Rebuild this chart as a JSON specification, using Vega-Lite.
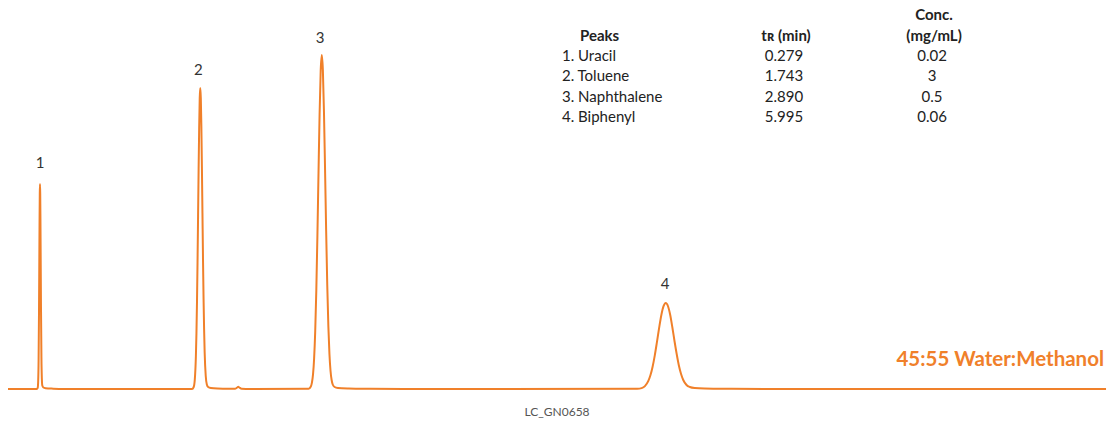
{
  "$schema": "https://vega.github.io/schema/vega-lite/v6.json",
  "width": 1108,
  "height": 424,
  "padding": 0,
  "autosize": "none",
  "background": "white",
  "config": {"view": {"stroke": null}},
  "datasets": {
    "trace": [
      {"t": -0.013, "v": 0}, {"t": 0.25, "v": 0}, {"t": 0.258, "v": 1.1}, {"t": 0.262, "v": 6.7}, {"t": 0.266, "v": 27.7}, {"t": 0.270, "v": 78.6}, {"t": 0.273, "v": 133.9}, {"t": 0.275, "v": 169.5}, {"t": 0.277, "v": 195.6}, {"t": 0.279, "v": 205}, {"t": 0.281, "v": 195.6}, {"t": 0.283, "v": 170}, {"t": 0.285, "v": 136}, {"t": 0.288, "v": 82}, {"t": 0.292, "v": 32}, {"t": 0.296, "v": 10}, {"t": 0.300, "v": 3.5}, {"t": 0.31, "v": 1.5}, {"t": 0.33, "v": 0.8}, {"t": 0.4, "v": 0.3}, {"t": 0.5, "v": 0},
      {"t": 1.668, "v": 0.1}, {"t": 1.683, "v": 2.0}, {"t": 1.693, "v": 9.4}, {"t": 1.703, "v": 32.8}, {"t": 1.708, "v": 55.2}, {"t": 1.713, "v": 86.5}, {"t": 1.718, "v": 126.6}, {"t": 1.723, "v": 173}, {"t": 1.728, "v": 220.3}, {"t": 1.733, "v": 262.1}, {"t": 1.738, "v": 290.8}, {"t": 1.743, "v": 301}, {"t": 1.748, "v": 291}, {"t": 1.753, "v": 263}, {"t": 1.758, "v": 222}, {"t": 1.763, "v": 176}, {"t": 1.768, "v": 130}, {"t": 1.773, "v": 91}, {"t": 1.778, "v": 60}, {"t": 1.783, "v": 37}, {"t": 1.793, "v": 13}, {"t": 1.803, "v": 4.5}, {"t": 1.815, "v": 2}, {"t": 1.84, "v": 1}, {"t": 1.9, "v": 0.5}, {"t": 2.0, "v": 0.3},
      {"t": 2.06, "v": 0.3}, {"t": 2.08, "v": 1.5}, {"t": 2.09, "v": 2.2}, {"t": 2.10, "v": 1.5}, {"t": 2.12, "v": 0.3}, {"t": 2.2, "v": 0},
      {"t": 2.733, "v": 0.3}, {"t": 2.753, "v": 2.5}, {"t": 2.763, "v": 6.4}, {"t": 2.773, "v": 14.6}, {"t": 2.783, "v": 30.5}, {"t": 2.793, "v": 57.6}, {"t": 2.803, "v": 98.5}, {"t": 2.813, "v": 153}, {"t": 2.823, "v": 215.2}, {"t": 2.833, "v": 274.8}, {"t": 2.843, "v": 318}, {"t": 2.853, "v": 334}, {"t": 2.863, "v": 319}, {"t": 2.873, "v": 277}, {"t": 2.883, "v": 219}, {"t": 2.893, "v": 158}, {"t": 2.903, "v": 104}, {"t": 2.913, "v": 63}, {"t": 2.923, "v": 35}, {"t": 2.933, "v": 18}, {"t": 2.943, "v": 9}, {"t": 2.953, "v": 4.5}, {"t": 2.97, "v": 2}, {"t": 3.0, "v": 1}, {"t": 3.1, "v": 0.5}, {"t": 3.3, "v": 0.2}, {"t": 3.6, "v": 0},
      {"t": 5.735, "v": 0.15}, {"t": 5.775, "v": 0.9}, {"t": 5.805, "v": 2.9}, {"t": 5.835, "v": 7.8}, {"t": 5.855, "v": 13.7}, {"t": 5.875, "v": 22.3}, {"t": 5.895, "v": 33.7}, {"t": 5.915, "v": 47.2}, {"t": 5.935, "v": 61.3}, {"t": 5.955, "v": 74}, {"t": 5.975, "v": 82.8}, {"t": 5.995, "v": 86}, {"t": 6.015, "v": 83}, {"t": 6.035, "v": 74.5}, {"t": 6.055, "v": 62}, {"t": 6.075, "v": 48}, {"t": 6.095, "v": 35}, {"t": 6.115, "v": 23.5}, {"t": 6.135, "v": 15}, {"t": 6.155, "v": 9}, {"t": 6.185, "v": 4}, {"t": 6.215, "v": 2}, {"t": 6.26, "v": 1}, {"t": 6.35, "v": 0.5}, {"t": 6.6, "v": 0.2}, {"t": 7.0, "v": 0},
      {"t": 10.017, "v": 0}
    ],
    "peakLabels": [
      {"t": 0.279, "v": 226, "label": "1"},
      {"t": 1.725, "v": 319, "label": "2"},
      {"t": 2.838, "v": 351, "label": "3"},
      {"t": 5.99, "v": 105, "label": "4"}
    ],
    "tableLeft": [
      {"t": 5.047, "v": 333, "label": "1. Uracil"},
      {"t": 5.047, "v": 313, "label": "2. Toluene"},
      {"t": 5.047, "v": 292, "label": "3. Naphthalene"},
      {"t": 5.047, "v": 272, "label": "4. Biphenyl"}
    ],
    "tableLeftBold": [
      {"t": 5.212, "v": 353, "label": "Peaks"}
    ],
    "tableCenter": [
      {"t": 7.075, "v": 333, "label": "0.279"},
      {"t": 7.075, "v": 313, "label": "1.743"},
      {"t": 7.075, "v": 292, "label": "2.890"},
      {"t": 7.075, "v": 272, "label": "5.995"},
      {"t": 8.428, "v": 333, "label": "0.02"},
      {"t": 8.428, "v": 313, "label": "3"},
      {"t": 8.428, "v": 292, "label": "0.5"},
      {"t": 8.428, "v": 272, "label": "0.06"}
    ],
    "tableCenterBold": [
      {"t": 7.094, "v": 353, "label": "tʀ (min)"},
      {"t": 8.446, "v": 374, "label": "Conc."},
      {"t": 8.446, "v": 353, "label": "(mg/mL)"}
    ],
    "condition": [
      {"t": 9.999, "v": 29, "label": "45:55 Water:Methanol"}
    ],
    "code": [
      {"t": 5.002, "v": -23, "label": "LC_GN0658"}
    ]
  },
  "encoding": {
    "x": {"field": "t", "type": "quantitative", "scale": {"domain": [-0.0864, 10.035], "nice": false, "zero": false}, "axis": null},
    "y": {"field": "v", "type": "quantitative", "scale": {"domain": [-35, 389], "nice": false, "zero": false}, "axis": null}
  },
  "layer": [
    {
      "data": {"name": "trace"},
      "mark": {"type": "line", "color": "#F0802A", "strokeWidth": 2, "interpolate": "monotone"},
      "encoding": {"order": {"field": "t", "type": "quantitative"}}
    },
    {
      "data": {"name": "peakLabels"},
      "mark": {"type": "text", "font": "Lato", "fontSize": 15, "color": "#333333", "align": "center", "baseline": "middle"},
      "encoding": {"text": {"field": "label"}}
    },
    {
      "data": {"name": "tableLeft"},
      "mark": {"type": "text", "font": "Lato", "fontSize": 15, "color": "#222222", "align": "left", "baseline": "middle"},
      "encoding": {"text": {"field": "label"}}
    },
    {
      "data": {"name": "tableLeftBold"},
      "mark": {"type": "text", "font": "Lato", "fontSize": 15, "fontWeight": "bold", "color": "#222222", "align": "left", "baseline": "middle"},
      "encoding": {"text": {"field": "label"}}
    },
    {
      "data": {"name": "tableCenter"},
      "mark": {"type": "text", "font": "Lato", "fontSize": 15, "color": "#222222", "align": "center", "baseline": "middle"},
      "encoding": {"text": {"field": "label"}}
    },
    {
      "data": {"name": "tableCenterBold"},
      "mark": {"type": "text", "font": "Lato", "fontSize": 15, "fontWeight": "bold", "color": "#222222", "align": "center", "baseline": "middle"},
      "encoding": {"text": {"field": "label"}}
    },
    {
      "data": {"name": "condition"},
      "mark": {"type": "text", "font": "Lato", "fontSize": 20.5, "fontWeight": "bold", "color": "#F0802A", "align": "right", "baseline": "middle"},
      "encoding": {"text": {"field": "label"}}
    },
    {
      "data": {"name": "code"},
      "mark": {"type": "text", "font": "Lato", "fontSize": 12, "color": "#555555", "align": "center", "baseline": "middle"},
      "encoding": {"text": {"field": "label"}}
    }
  ]
}
